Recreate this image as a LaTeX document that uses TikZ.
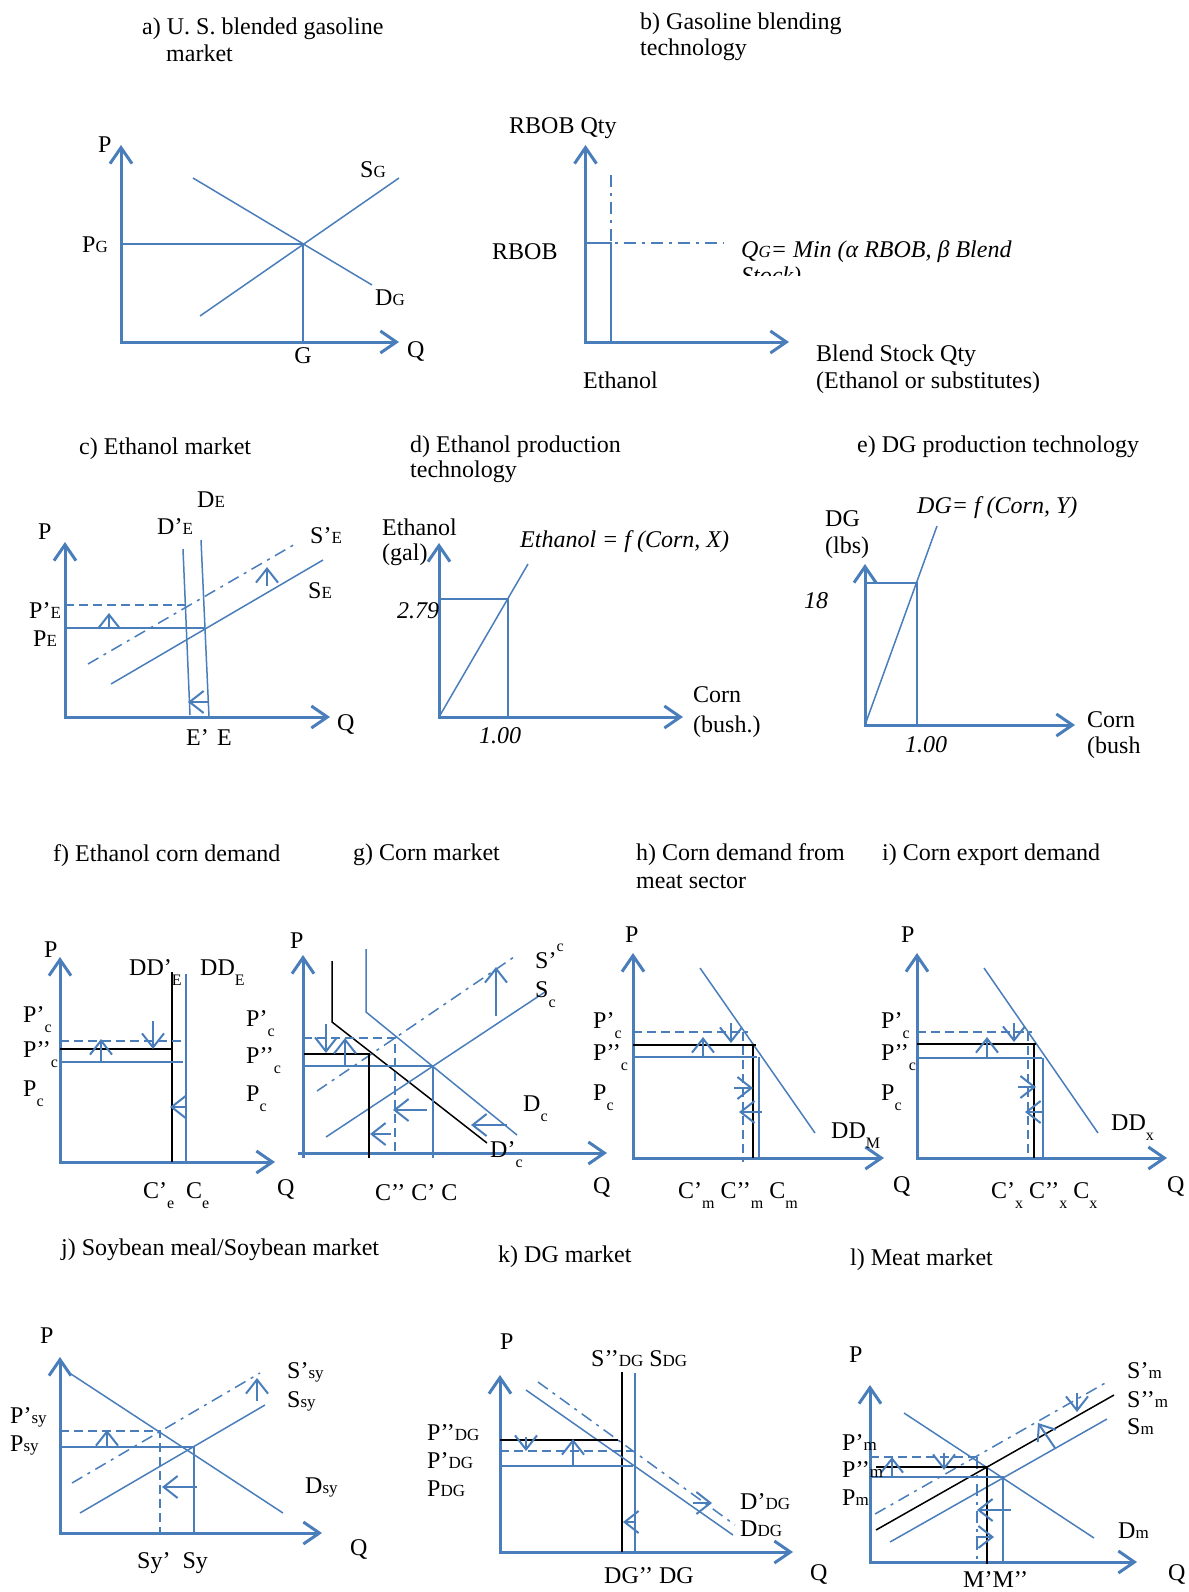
\documentclass[tikz,border=0pt]{standalone}
\usepackage{fontspec}
\setmainfont{Liberation Serif}
\usepackage{tikz}
\usetikzlibrary{arrows.meta}
\definecolor{XLBlue}{RGB}{74,126,187}
\newcommand\smsub[1]{{\fontsize{17}{17}\selectfont #1}}
\newcommand\lowsub[1]{\raisebox{-10pt}{\fontsize{16}{16}\selectfont #1}}
\newcommand\highsup[1]{\raisebox{17pt}{\fontsize{16}{16}\selectfont #1}}

\begin{document}
\begin{tikzpicture}[x=1pt,y=-1pt,
    ax/.style={XLBlue,line width=3pt,>={Straight Barb[length=16pt,width=22pt]},<->},
    ax1/.style={XLBlue,line width=3pt,>={Straight Barb[length=16pt,width=22pt]},->},
    crv/.style={XLBlue,line width=1.5pt},
    blk/.style={black,line width=1.5pt},
    dsh/.style={crv,dash pattern=on 9pt off 5pt},
    ddot/.style={crv,dash pattern=on 12pt off 6pt on 3pt off 6pt},
    mvarr/.style={XLBlue,line width=2pt,-{Straight Barb[length=14pt,width=22pt]}},
    lbl/.style={inner sep=0pt,anchor=base west,font=\fontsize{24}{28}\selectfont},
    ilbl/.style={lbl,font=\fontsize{24}{28}\selectfont\itshape}
  ]
    \useasboundingbox (0,0) rectangle (1188,1592);

    \node[lbl] (aT1) at (142,35) {a) U. S. blended gasoline};
    \node[lbl] (aT2) at (166,62) {market};
    \draw[ax] (121,145) |- (399,342);
    \draw[crv] (200,316) -- (399,178);
    \draw[crv] (193,178) -- (372,285);
    \draw[crv] (121,244) -| (303,342);
    \node[lbl] (aP) at (98,153) {P};
    \node[lbl] (aSG) at (360,177) {S\smsub{G}};
    \node[lbl] (aPG) at (82,252) {P\smsub{G}};
    \node[lbl] (aDG) at (375,305) {D\smsub{G}};
    \node[lbl,anchor=base] (aG) at (303,363) {G};
    \node[lbl] (aQ) at (407,357) {Q};

    \node[lbl] (bT1) at (640,30) {b) Gasoline blending};
    \node[lbl] (bT2) at (640,56) {technology};
    \draw[ax] (585.5,145) |- (789,342);
    \draw[crv] (585.5,243) -| (611,342);
    \draw[ddot] (611,175) |- (724,243);
    \node[lbl] (bRQ) at (509,133) {RBOB Qty};
    \node[lbl] (bR) at (492,259) {RBOB};
    \node[ilbl] (bF) at (741,257) {Q\smsub{G}= Min (α RBOB, β Blend};
    \begin{scope}
      \clip (700,230) rectangle (1060,275);
      \node[ilbl] (bS) at (741,283) {Stock)};
    \end{scope}
    \node[lbl] (bBS) at (816,361) {Blend Stock Qty};
    \node[lbl] (bES) at (816,388) {(Ethanol or substitutes)};
    \node[lbl] (bE) at (583,388) {Ethanol};

    \node[lbl] (cT) at (79,454) {c) Ethanol market};
    \draw[ax] (65,542) |- (330,717);
    \draw[crv] (183,549) -- (190,715);
    \draw[crv] (201,540) -- (209,717);
    \draw[crv] (111,684) -- (323,560);
    \draw[ddot] (88,664) -- (297,543);
    \draw[crv] (65,628) -- (204,628);
    \draw[dsh] (65,605) -- (185,605);
    \draw[mvarr] (109,628) -- (109,613);
    \draw[mvarr] (267,586) -- (267,567);
    \draw[mvarr] (209,702) -- (188,702);
    \node[lbl] (cP) at (38,539) {P};
    \node[lbl] (cDE) at (197,507) {D\smsub{E}};
    \node[lbl] (cDpE) at (157,534) {D’\smsub{E}};
    \node[lbl] (cSpE) at (310,543) {S’\smsub{E}};
    \node[lbl] (cSE) at (308,598) {S\smsub{E}};
    \node[lbl] (cPpE) at (29,618) {P’\smsub{E}};
    \node[lbl] (cPE) at (33,646) {P\smsub{E}};
    \node[lbl] (cEp) at (186,745) {E’};
    \node[lbl] (cE) at (217,745) {E};
    \node[lbl] (cQ) at (337,730) {Q};

    \node[lbl] (dT1) at (410,452) {d) Ethanol production};
    \node[lbl] (dT2) at (410,477) {technology};
    \draw[ax] (439,543) |- (683,717);
    \draw[crv] (439,717) -- (528,564);
    \draw[crv] (439,599) -| (508,717);
    \node[lbl] (dEth) at (382,535) {Ethanol};
    \node[lbl] (dGal) at (382,560) {(gal)};
    \node[ilbl] (dF) at (520,547) {Ethanol = f (Corn, X)};
    \node[ilbl] (d279) at (397,618) {2.79};
    \node[ilbl,anchor=base] (d100) at (500,743) {1.00};
    \node[lbl] (dCorn) at (693,702) {Corn};
    \node[lbl] (dBush) at (693,732) {(bush.)};

    \node[lbl] (eT) at (857,452) {e) DG production technology};
    \draw[ax] (865,564) |- (1075,725);
    \draw[crv] (865,725) -- (937,526);
    \draw[crv] (867,583) -| (917,725);
    \node[ilbl] (eF) at (917,513) {DG= f (Corn, Y)};
    \node[lbl] (eDG) at (825,526) {DG};
    \node[lbl] (eLbs) at (825,553) {(lbs)};
    \node[ilbl] (e18) at (804,608) {18};
    \node[ilbl,anchor=base] (e100) at (926,752) {1.00};
    \node[lbl] (eCorn) at (1087,727) {Corn};
    \node[lbl] (eBush) at (1087,753) {(bush};

    \node[lbl] (fT) at (53,861) {f) Ethanol corn demand};
    \draw[ax] (60,957) |- (275,1162);
    \draw[blk] (172,972) -- (172,1162);
    \draw[crv] (186,974) -- (186,1162);
    \draw[dsh] (60,1041) -- (186,1041);
    \draw[blk] (60,1049) -- (173,1049);
    \draw[crv] (60,1062) -- (183,1062);
    \draw[mvarr] (101,1062) -- (101,1039);
    \draw[mvarr] (153,1021) -- (153,1049);
    \draw[mvarr] (186,1107) -- (170,1107);
    \node[lbl] (fP) at (44,957) {P};
    \node[lbl] (fDDp) at (129,975) {DD’\lowsub{E}};
    \node[lbl] (fDD) at (200,975) {DD\lowsub{E}};
    \node[lbl] (fPp) at (23,1022) {P’\lowsub{c}};
    \node[lbl] (fPpp) at (23,1057) {P’’\lowsub{c}};
    \node[lbl] (fPc) at (23,1096) {P\lowsub{c}};
    \node[lbl] (fCp) at (143,1198) {C’\lowsub{e}};
    \node[lbl] (fC) at (186,1198) {C\lowsub{e}};
    \node[lbl] (fQ) at (277,1195) {Q};

    \node[lbl] (gT) at (353,860) {g) Corn market};
    \draw[ax1] (303,1158) -- (303,955);
    \draw[ax1] (298,1153) -- (607,1153);
    \draw[blk] (332,961) -- (332,1022) -- (487,1143);
    \draw[crv] (366,949) -- (366,1012) -- (517,1135);
    \draw[crv] (326,1137) -- (545,992);
    \draw[ddot] (317,1091) -- (514,957);
    \draw[crv] (303,1066) -| (433,1158);
    \draw[dsh] (303,1038) -| (395,1153);
    \draw[blk] (304,1054) -| (369,1158);
    \draw[mvarr] (496,1016) -- (496,967);
    \draw[mvarr] (326,1024) -- (326,1053);
    \draw[mvarr] (345,1066) -- (345,1038);
    \draw[mvarr] (427,1110) -- (393,1110);
    \draw[mvarr] (391,1134) -- (370,1134);
    \draw[mvarr] (507,1125) -- (471,1125);
    \node[lbl] (gP) at (290,948) {P};
    \node[lbl] (gPp) at (246,1026) {P’\lowsub{c}};
    \node[lbl] (gPpp) at (246,1063) {P’’\lowsub{c}};
    \node[lbl] (gPc) at (246,1101) {P\lowsub{c}};
    \node[lbl] (gSp) at (535,968) {S’\highsup{c}};
    \node[lbl] (gS) at (535,997) {S\lowsub{c}};
    \node[lbl] (gD) at (523,1111) {D\lowsub{c}};
    \node[lbl] (gDp) at (490,1157) {D’\lowsub{c}};
    \node[lbl] (gC) at (375,1200) {C’’ C’ C};
    \node[lbl] (gQ) at (593,1193) {Q};

    \node[lbl] (hT1) at (636,860) {h) Corn demand from};
    \node[lbl] (hT2) at (636,888) {meat sector};
    \draw[ax] (633,953) |- (884,1158);
    \draw[crv] (700,968) -- (815,1133);
    \draw[dsh] (633,1032) -- (748,1032);
    \draw[dsh] (743,1032) -- (743,1162);
    \draw[blk] (633,1045) -- (756,1045);
    \draw[blk] (753,1045) -- (753,1158);
    \draw[crv] (633,1057) -- (757,1057);
    \draw[crv] (759,1057) -- (759,1158);
    \draw[mvarr] (703,1057) -- (703,1037);
    \draw[mvarr] (731,1023) -- (731,1043);
    \draw[mvarr] (734,1088) -- (753,1088);
    \draw[mvarr] (762,1112) -- (739,1112);
    \node[lbl] (hP) at (625,942) {P};
    \node[lbl] (hPp) at (593,1028) {P’\lowsub{c}};
    \node[lbl] (hPpp) at (593,1060) {P’’\lowsub{c}};
    \node[lbl] (hPc) at (593,1100) {P\lowsub{c}};
    \node[lbl] (hDD) at (831,1138) {DD\lowsub{M}};
    \node[lbl] (hC) at (678,1198) {C’\lowsub{m} C’’\lowsub{m} C\lowsub{m}};
    \node[lbl] (hQ) at (893,1192) {Q};

    \node[lbl] (iT) at (882,860) {i) Corn export demand};
    \draw[ax] (917,953) |- (1167,1158);
    \draw[crv] (984,968) -- (1098,1133);
    \draw[dsh] (917,1032) -- (1032,1032);
    \draw[dsh] (1028,1032) -- (1028,1158);
    \draw[blk] (917,1044) -- (1036,1044);
    \draw[blk] (1034,1044) -- (1034,1158);
    \draw[crv] (917,1058) -- (1042,1058);
    \draw[crv] (1043,1058) -- (1043,1158);
    \draw[mvarr] (987,1058) -- (987,1037);
    \draw[mvarr] (1014,1023) -- (1014,1042);
    \draw[mvarr] (1018,1087) -- (1036,1087);
    \draw[mvarr] (1044,1112) -- (1025,1112);
    \node[lbl] (iP) at (901,942) {P};
    \node[lbl] (iPp) at (881,1028) {P’\lowsub{c}};
    \node[lbl] (iPpp) at (881,1060) {P’’\lowsub{c}};
    \node[lbl] (iPc) at (881,1100) {P\lowsub{c}};
    \node[lbl] (iDD) at (1111,1130) {DD\lowsub{x}};
    \node[lbl] (iC) at (991,1198) {C’\lowsub{x} C’’\lowsub{x} C\lowsub{x}};
    \node[lbl] (iQ) at (1167,1192) {Q};

    \node[lbl] (jT) at (61,1255) {j) Soybean meal/Soybean market};
    \draw[ax] (60,1357) |- (322,1533);
    \draw[crv] (71,1374) -- (283,1513);
    \draw[crv] (80,1513) -- (265,1405);
    \draw[ddot] (72,1483) -- (260,1373);
    \draw[crv] (60,1447) -| (194,1533);
    \draw[dsh] (60,1431) -| (160,1533);
    \draw[mvarr] (107,1447) -- (107,1430);
    \draw[mvarr] (257,1401) -- (257,1378);
    \draw[mvarr] (197,1487) -- (162,1487);
    \node[lbl] (jP) at (40,1343) {P};
    \node[lbl] (jSp) at (287,1378) {S’\smsub{sy}};
    \node[lbl] (jS) at (287,1407) {S\smsub{sy}};
    \node[lbl] (jPp) at (10,1423) {P’\smsub{sy}};
    \node[lbl] (jPsy) at (10,1451) {P\smsub{sy}};
    \node[lbl] (jD) at (305,1493) {D\smsub{sy}};
    \node[lbl] (jSy) at (137,1568) {Sy’~ Sy};
    \node[lbl] (jQ) at (350,1555) {Q};

    \node[lbl] (kT) at (498,1262) {k) DG market};
    \draw[ax] (500,1375) |- (793,1552);
    \draw[blk] (622,1372) -- (622,1552);
    \draw[crv] (635,1373) -- (635,1552);
    \draw[crv] (526,1390) -- (733,1535);
    \draw[ddot] (538,1382) -- (735,1525);
    \draw[blk] (500,1440) -- (618,1440);
    \draw[dsh] (500,1451) -- (633,1451);
    \draw[crv] (500,1466) -- (633,1466);
    \draw[mvarr] (526,1437) -- (526,1451);
    \draw[mvarr] (573,1466) -- (573,1439);
    \draw[mvarr] (693,1503) -- (712,1503);
    \draw[mvarr] (636,1522) -- (623,1522);
    \node[lbl] (kP) at (500,1349) {P};
    \node[lbl] (kS) at (591,1366) {S’’\smsub{DG} S\smsub{DG}};
    \node[lbl] (kPpp) at (427,1440) {P’’\smsub{DG}};
    \node[lbl] (kPp) at (427,1468) {P’\smsub{DG}};
    \node[lbl] (kPDG) at (427,1496) {P\smsub{DG}};
    \node[lbl] (kDp) at (740,1509) {D’\smsub{DG}};
    \node[lbl] (kD) at (740,1536) {D\smsub{DG}};
    \node[lbl] (kDG) at (604,1583) {DG’’ DG};
    \node[lbl] (kQ) at (810,1580) {Q};

    \node[lbl] (lT) at (850,1265) {l) Meat market};
    \draw[ax] (870,1385) |- (1137,1562);
    \draw[crv] (904,1413) -- (1094,1538);
    \draw[crv] (890,1542) -- (1107,1419);
    \draw[blk] (876,1530) -- (1114,1395);
    \draw[ddot] (875,1514) -- (1107,1382);
    \draw[dsh] (870,1457) -- (977,1457);
    \draw[ddot] (977,1457) -- (977,1562);
    \draw[blk] (876,1467) -| (987,1564);
    \draw[crv] (870,1477) -| (1003,1562);
    \draw[mvarr] (892,1478) -- (892,1457);
    \draw[mvarr] (944,1453) -- (944,1470);
    \draw[mvarr] (1077,1393) -- (1077,1412);
    \draw[mvarr] (1055,1448) -- (1038,1423);
    \draw[mvarr] (1011,1510) -- (977,1510);
    \draw[mvarr] (976,1537) -- (994,1537);
    \node[lbl] (lP) at (849,1362) {P};
    \node[lbl] (lSp) at (1127,1378) {S’\smsub{m}};
    \node[lbl] (lSpp) at (1127,1407) {S’’\smsub{m}};
    \node[lbl] (lS) at (1127,1434) {S\smsub{m}};
    \node[lbl] (lPp) at (842,1450) {P’\smsub{m}};
    \node[lbl] (lPpp) at (842,1477) {P’’\smsub{m}};
    \node[lbl] (lPm) at (842,1505) {P\smsub{m}};
    \node[lbl] (lD) at (1118,1538) {D\smsub{m}};
    \node[lbl] (lM) at (963,1587) {M’M’’};
    \node[lbl] (lQ) at (1168,1580) {Q};
  \end{tikzpicture}
\end{document}
